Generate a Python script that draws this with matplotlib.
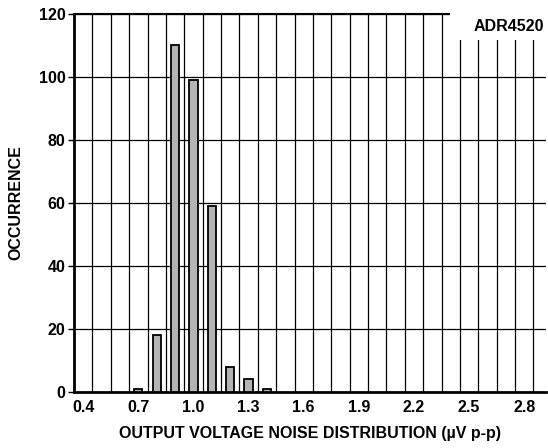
import matplotlib.pyplot as plt
from matplotlib.patches import Rectangle
import numpy as np

plt.rcParams["font.family"] = ["Liberation Sans", "DejaVu Sans"]
plt.rcParams["font.weight"] = "bold"

# noise bins (uV p-p) and counts
noise = [0.7, 0.8, 0.9, 1.0, 1.1, 1.2, 1.3, 1.4]
counts = [1, 18, 110, 99, 59, 8, 4, 1]
xtick_vals = [0.4, 0.7, 1.0, 1.3, 1.6, 1.9, 2.2, 2.5, 2.8]
ytick_vals = [0, 20, 40, 60, 80, 100, 120]

fig = plt.figure(figsize=(5.48, 4.48), dpi=100)
ax = fig.add_axes([0.135, 0.125, 0.862, 0.844])

# grid: horizontal every 20, vertical on bin edges
for y in ytick_vals[1:]:
    ax.axhline(y, color="black", lw=0.9, zorder=1)
for xg in np.arange(0.45, 2.9, 0.1):
    ax.axvline(xg, color="black", lw=0.9, zorder=1)

ax.bar(noise, counts, width=0.045, color="#b4b4b4", edgecolor="black",
       linewidth=1.3, zorder=3)

ax.set_xlim(0.35, 2.92)
ax.set_ylim(0, 120)
ax.set_xticks(xtick_vals)
ax.set_xticklabels([f"{v:.1f}" for v in xtick_vals])
ax.set_yticks(ytick_vals)
ax.tick_params(axis="x", length=0, labelsize=11.5, pad=6)
ax.tick_params(axis="y", length=4, width=1, labelsize=11.5, pad=2)

for side in ["left", "bottom"]:
    ax.spines[side].set_linewidth(2)
ax.spines["top"].set_linewidth(1.5)
ax.spines["right"].set_visible(False)

ax.set_xlabel("OUTPUT VOLTAGE NOISE DISTRIBUTION (\u00b5V p-p)",
              fontsize=11.5, fontweight="bold", labelpad=8)
ax.set_ylabel("OCCURRENCE", fontsize=11.5, fontweight="bold", labelpad=11)

# white label box in top right corner
ax.add_patch(Rectangle((0.797, 0.932), 0.21, 0.08, transform=ax.transAxes,
                       facecolor="white", edgecolor="none", zorder=5,
                       clip_on=False))
ax.text(0.995, 0.966, "ADR4520", transform=ax.transAxes, ha="right",
        va="center", fontsize=11.5, fontweight="bold", zorder=6)

plt.savefig("out.png", dpi=100)
plt.close()
